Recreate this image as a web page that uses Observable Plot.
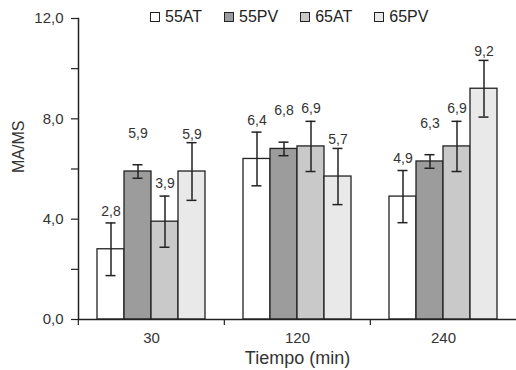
<!DOCTYPE html>
<html><head><meta charset="utf-8">
<script src="https://cdn.jsdelivr.net/npm/d3@7"></script>
<script src="https://cdn.jsdelivr.net/npm/@observablehq/plot@0.6"></script>
<style>
body{margin:0;background:#fff;font-family:"Liberation Sans",Arial,sans-serif;}
#wrap{position:relative;width:516px;height:370px;}
#legend{position:absolute;top:9px;left:150px;display:flex;gap:22px;font-size:16px;color:#222;line-height:16px;}
.item{display:flex;align-items:center;gap:5px;}
.sw{box-sizing:border-box;width:10px;height:10px;border:1.2px solid #222;}
</style></head><body><div id="wrap"><div id="legend"></div></div>
<script>
const groups = ["30", "120", "240"];
const series = ["55AT", "55PV", "65AT", "65PV"];
const mean55AT = [2.8, 6.4, 4.9];
const err55AT = [1.05, 1.07, 1.04];
const mean55PV = [5.9, 6.8, 6.3];
const err55PV = [0.27, 0.27, 0.27];
const mean65AT = [3.9, 6.9, 6.9];
const err65AT = [1.02, 1.0, 1.0];
const mean65PV = [5.9, 5.7, 9.2];
const err65PV = [1.15, 1.12, 1.13];
const yTicks = [0, 2, 4, 6, 8, 10, 12];
const yLabel = "MA/MS";
const xLabel = "Tiempo (min)";

// styles
const fills = ["#ffffff", "#9c9c9c", "#c9c9c9", "#e9e9e9"];
const labelLift = [11.5, 31.5, 12.5, 8.5];
const ink = "#222";

const means = [mean55AT, mean55PV, mean65AT, mean65PV];
const errs = [err55AT, err55PV, err65AT, err65PV];
const data = [];
groups.forEach((g, gi) => series.forEach((s, si) => {
  data.push({group: g, series: s, mean: means[si][gi], err: errs[si][gi]});
}));
const fmt = v => v.toFixed(1).replace(".", ",");

const W = 516, H = 370, mL = 77, mR = 0, mT = 18, mB = 51;
const step = (W - mL - mR) / groups.length;

const chart = Plot.plot({
  width: W, height: H,
  marginLeft: mL, marginRight: mR, marginTop: mT, marginBottom: mB,
  style: {fontFamily: '"Liberation Sans", Arial, sans-serif', color: ink, background: "#fff", overflow: "visible"},
  fx: {domain: groups, padding: 0},
  x: {domain: series, paddingInner: 0, paddingOuter: 0.7, axis: null},
  y: {domain: [0, 12]},
  color: {domain: series, range: fills},
  marks: [
    Plot.barY(data, {fx: "group", x: "series", y: "mean", fill: "series", stroke: ink, strokeWidth: 1.3}),
    Plot.ruleX(data, {fx: "group", x: "series", y1: d => d.mean - d.err, y2: d => d.mean + d.err, stroke: ink, strokeWidth: 1.5}),
    Plot.tickY(data, {fx: "group", x: "series", y: d => d.mean - d.err, stroke: ink, strokeWidth: 1.5, insetLeft: 8.5, insetRight: 8.5}),
    Plot.tickY(data, {fx: "group", x: "series", y: d => d.mean + d.err, stroke: ink, strokeWidth: 1.5, insetLeft: 8.5, insetRight: 8.5}),
    ...series.map((s, si) => Plot.text(data.filter(d => d.series === s), {
      fx: "group", x: "series", y: d => d.mean + d.err, text: d => fmt(d.mean),
      dy: -labelLift[si], fontSize: 14, fill: "#333"
    })),
    Plot.ruleY([0], {stroke: ink, strokeWidth: 1.5}),
    Plot.frame({anchor: "left", facetAnchor: "left", stroke: ink, strokeWidth: 1.5}),
    Plot.axisY({ticks: yTicks, tickSize: 7, tickPadding: 8, tickFormat: d => d % 4 === 0 ? fmt(d) : "", label: null, fontSize: 15, stroke: ink, strokeWidth: 1.2, fill: "#333"}),
    Plot.axisFx({anchor: "bottom", tickSize: 0, tickPadding: 13, fontSize: 15, label: null, fill: "#333"}),
    Plot.axisFx({anchor: "bottom", tickSize: 6, tickFormat: () => "", label: null, dx: -step / 2, stroke: ink, strokeWidth: 1.2}),
    Plot.text([{g: groups[1]}], {fx: "g", text: () => xLabel, frameAnchor: "bottom", dy: 44, fontSize: 18, fill: "#333"}),
    Plot.text([{g: groups[0]}], {fx: "g", text: () => yLabel, frameAnchor: "left", rotate: -90, dx: -60, dy: 4, fontSize: 16, fill: "#333"})
  ]
});
document.getElementById("wrap").appendChild(chart);

const legend = d3.select("#legend");
series.forEach((s, i) => {
  const it = legend.append("div").attr("class", "item");
  it.append("div").attr("class", "sw").style("background", fills[i]);
  it.append("span").text(s);
});
</script></body></html>
